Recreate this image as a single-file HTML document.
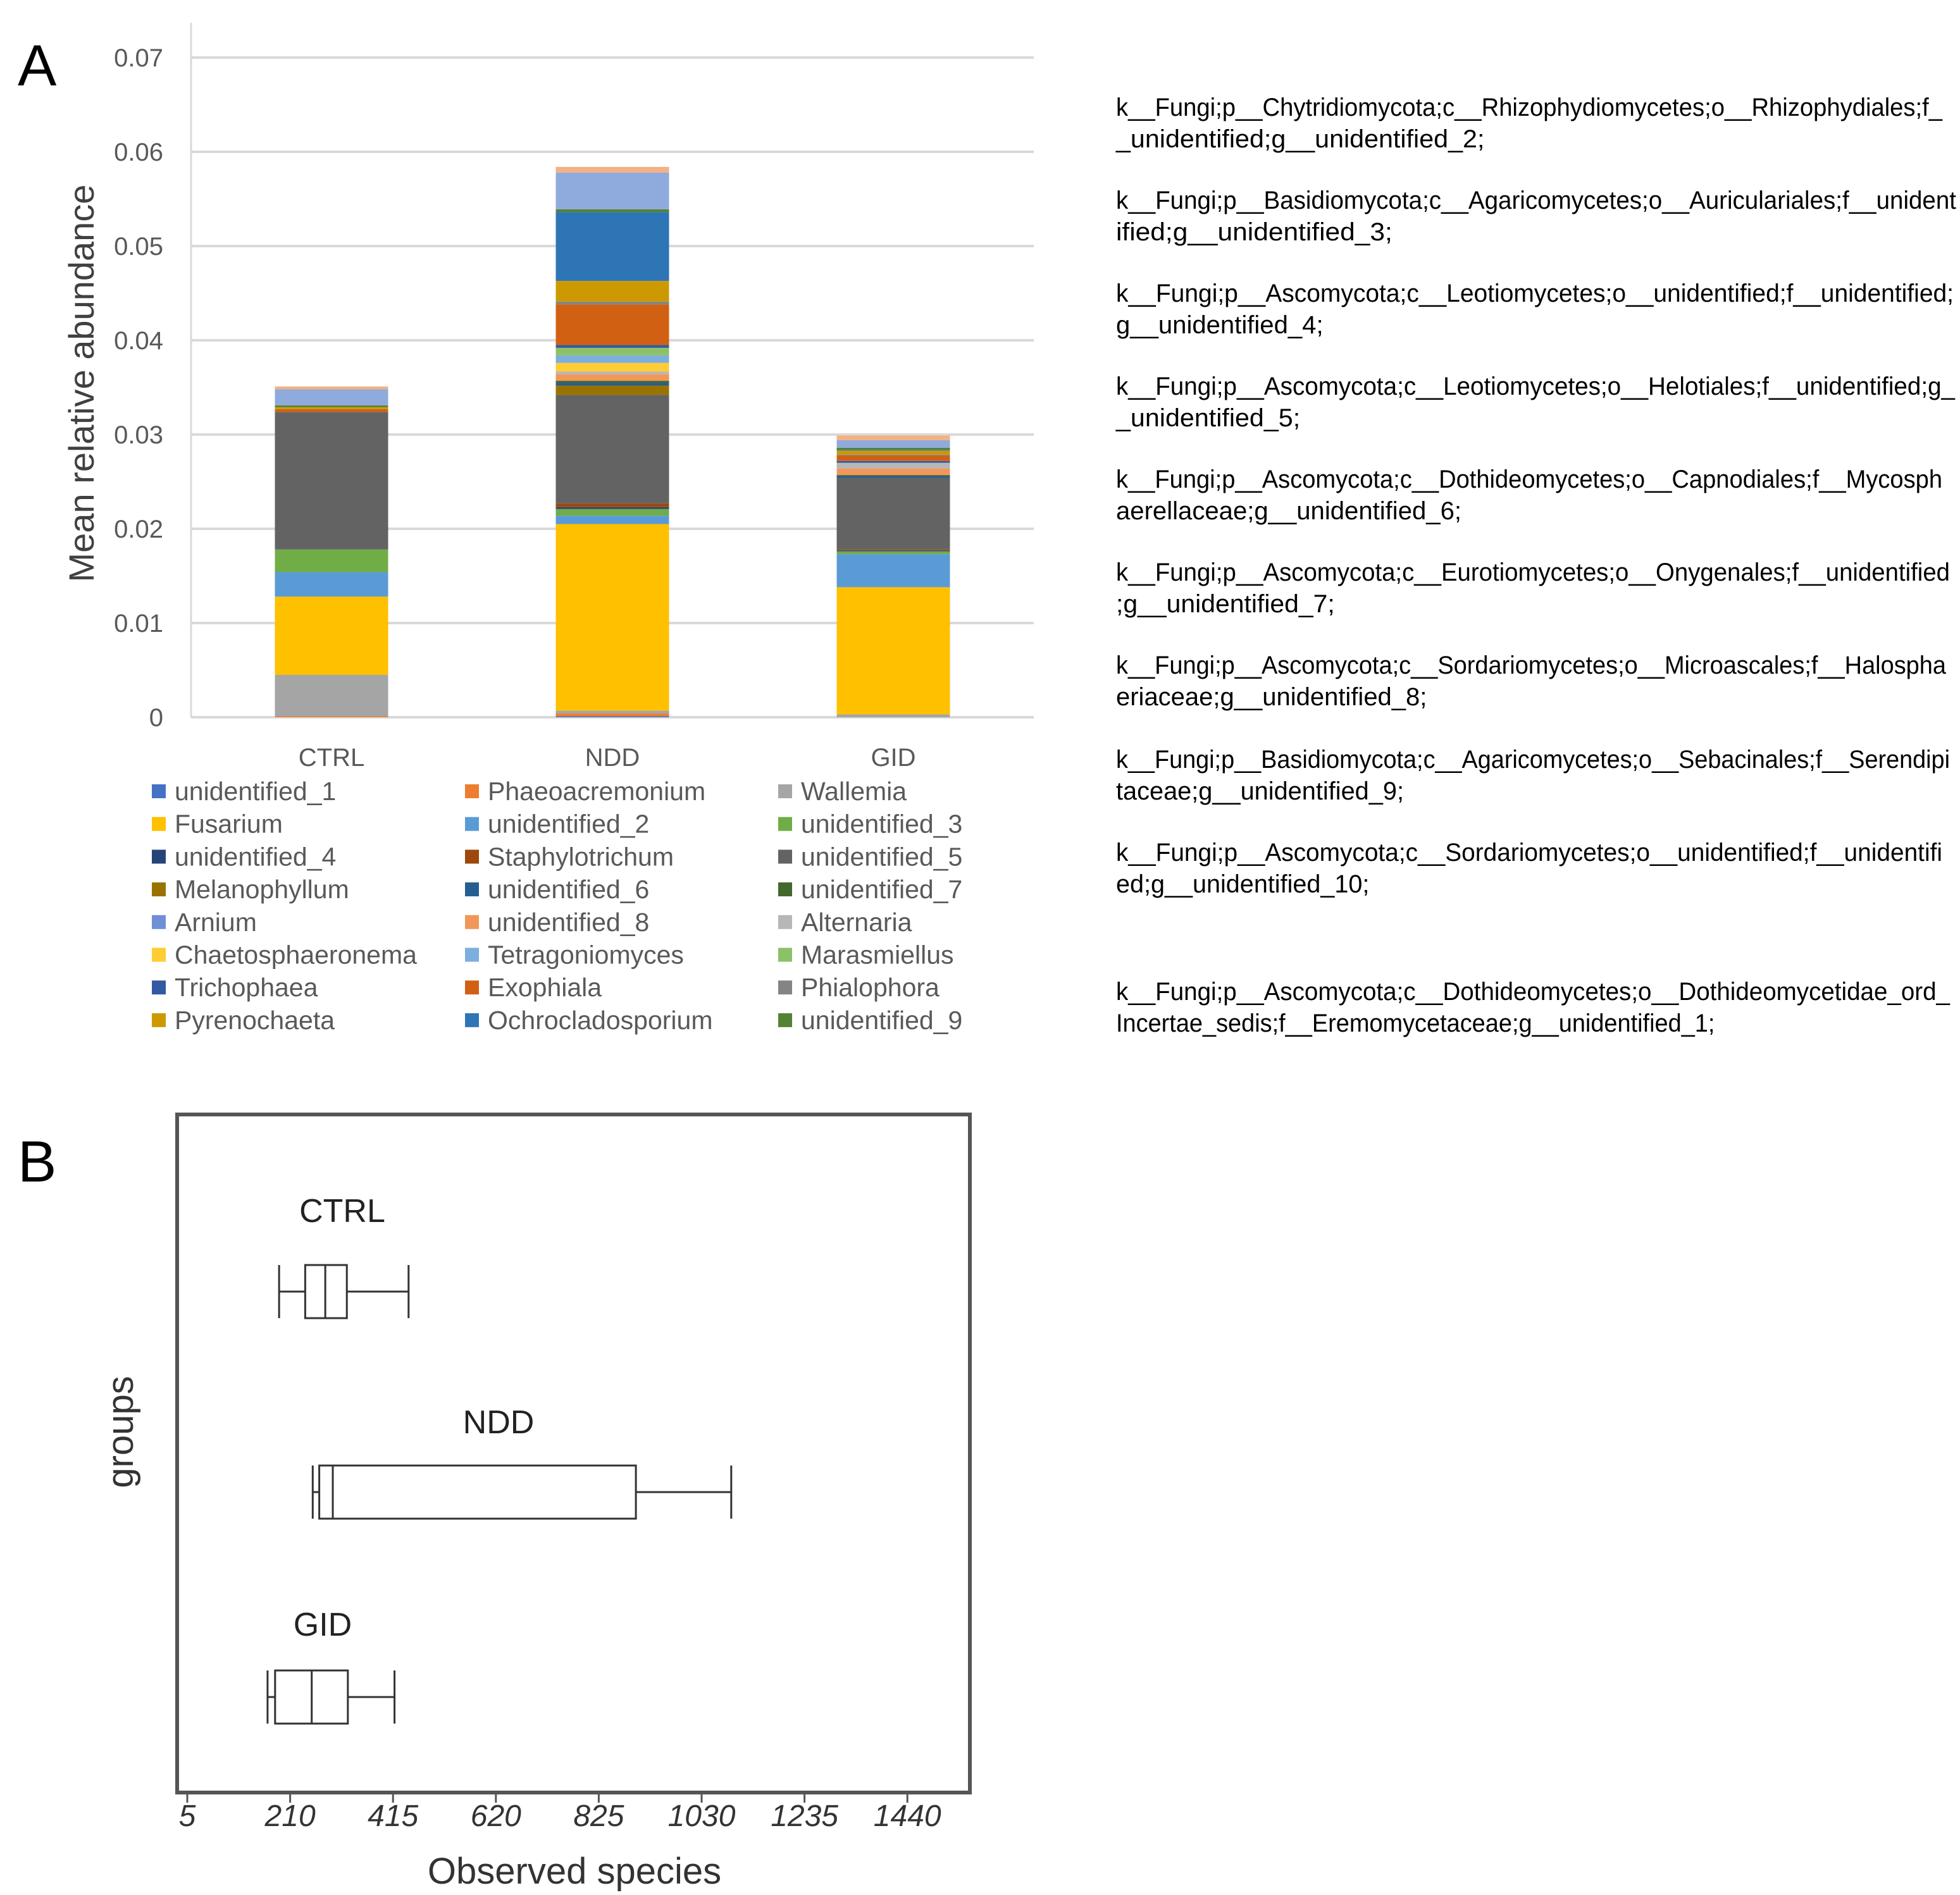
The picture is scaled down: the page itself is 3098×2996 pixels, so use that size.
<!DOCTYPE html>
<html><head><meta charset="utf-8"><style>
html,body{margin:0;padding:0;background:#fff}
svg{display:block}
text{font-family:"Liberation Sans",sans-serif}
</style></head><body>
<svg id="fig" width="3098" height="2996" viewBox="0 0 3098 2996" xmlns="http://www.w3.org/2000/svg">
<rect width="3098" height="2996" fill="#fff"/>
<text x="28" y="135" font-size="92" fill="#000">A</text>
<g id="chartA"></g>
<g id="legendA"></g>
<g id="taxa"></g>
<text x="28" y="1868" font-size="92" fill="#000">B</text>
<g id="chartB"></g>
</svg>
<script>
const NS="http://www.w3.org/2000/svg";
function mk(p,tag,attrs,txt){const e=document.createElementNS(NS,tag);for(const k in attrs)e.setAttribute(k,attrs[k]);if(txt!==undefined)e.textContent=txt;p.appendChild(e);return e;}

// ---------- Panel A data ----------
const groups=["CTRL","NDD","GID"];
const seriesNames=["unidentified_1","Phaeoacremonium","Wallemia","Fusarium","unidentified_2","unidentified_3","unidentified_4","Staphylotrichum","unidentified_5","Melanophyllum","unidentified_6","unidentified_7","unidentified_8","Alternaria","Chaetosphaeronema","Tetragoniomyces","Marasmiellus","Trichophaea","Exophiala","Phialophora","Pyrenochaeta","Ochrocladosporium","unidentified_9","Arnium","others"];
const seriesColors=["#4472c4","#ed7d31","#a5a5a5","#ffc000","#5b9bd5","#70ad47","#264478","#9e480e","#636363","#997300","#255e91","#43682b","#f1975a","#b7b7b7","#ffcd33","#7cafdd","#8cc168","#335aa1","#d26012","#848484","#cc9a00","#2e75b6","#548235","#8faadc","#f4b183"];
const valCTRL=[0,0.0001,0.0044,0.0083,0.0026,0.0024,0,0,0.0146,0,0,0,0,0,0,0,0,0,0.0003,0,0.0002,0,0.0002,0.0017,0.0003];
const valNDD=[0.0001,0.0003,0.0003,0.0198,0.0009,0.0007,0.0002,0.0004,0.0115,0.0010,0.0003,0.0002,0.0007,0.0003,0.0009,0.0008,0.0008,0.0003,0.0043,0.0003,0.0022,0.0073,0.0003,0.0039,0.0006];
const valGID=[0,0,0.0003,0.0135,0.0035,0.0003,0.0001,0.0001,0.0076,0,0.0002,0.0001,0.0007,0.0006,0,0,0,0.0002,0.0006,0.0001,0.0004,0.0001,0.0002,0.0008,0.0005];
const groupValues=[valCTRL,valNDD,valGID];
const yTicks=[0,0.01,0.02,0.03,0.04,0.05,0.06,0.07];
const yTickLabels=["0","0.01","0.02","0.03","0.04","0.05","0.06","0.07"];
const legendOrder=["unidentified_1","Phaeoacremonium","Wallemia","Fusarium","unidentified_2","unidentified_3","unidentified_4","Staphylotrichum","unidentified_5","Melanophyllum","unidentified_6","unidentified_7","Arnium","unidentified_8","Alternaria","Chaetosphaeronema","Tetragoniomyces","Marasmiellus","Trichophaea","Exophiala","Phialophora","Pyrenochaeta","Ochrocladosporium","unidentified_9"];
const legendSwatch={"Arnium":"#6f8fd6"};

const A={x0:302,x1:1634,y0:1134,yTop:36};
const yA=v=>A.y0-v*14900;
const band=(A.x1-A.x0)/groups.length;
const xA=i=>A.x0+band*(i+0.5);
const barW=179;

const gA=document.getElementById('chartA');
yTicks.forEach((t,i)=>{
  if(t>0){const l=mk(gA,'line',{x1:A.x0,x2:A.x1,y1:yA(t),y2:yA(t),stroke:'#d9d9d9','stroke-width':4});
  
  }
  const tx=mk(gA,'text',{x:258,y:yA(t)+14,'font-size':40,fill:'#595959','text-anchor':'end'},yTickLabels[i]);
  
  
});
const ax=mk(gA,'line',{x1:A.x0,x2:A.x0,y1:A.yTop,y2:A.y0,stroke:'#d9d9d9','stroke-width':3});


const bx=mk(gA,'line',{x1:A.x0,x2:A.x1,y1:A.y0,y2:A.y0,stroke:'#d9d9d9','stroke-width':4});


groups.forEach((g,gi)=>{
  let cum=0;
  groupValues[gi].forEach((v,si)=>{
    if(v<=0)return;
    const r=mk(gA,'rect',{x:xA(gi)-barW/2,y:yA(cum+v),width:barW,height:Math.max(0,yA(cum)-yA(cum+v)),fill:seriesColors[si]});
    
    
    cum+=v;
  });
  const t=mk(gA,'text',{x:xA(gi),y:1211,'font-size':40,fill:'#595959','text-anchor':'middle'},g);
  
  
});
const yt=mk(gA,'text',{x:0,y:0,'font-size':56,fill:'#404040','text-anchor':'middle',transform:'translate(148,606) rotate(-90)'},'Mean relative abundance');



// legend
const gL=document.getElementById('legendA');
legendOrder.forEach((n,i)=>{
  const col=i%3,row=Math.floor(i/3);
  const x=240+col*495,y=1251+row*51.7;
  const ci=seriesNames.indexOf(n);
  const s=mk(gL,'rect',{x:x,y:y-11,width:22,height:22,fill:legendSwatch[n]||seriesColors[ci]});
  
  
  const t=mk(gL,'text',{x:x+36,y:y+14,'font-size':41,fill:'#595959'},n);
  
  
});

// taxonomy text
const taxa=[
 ["k__Fungi;p__Chytridiomycota;c__Rhizophydiomycetes;o__Rhizophydiales;f_","_unidentified;g__unidentified_2;"],
 ["k__Fungi;p__Basidiomycota;c__Agaricomycetes;o__Auriculariales;f__unident","ified;g__unidentified_3;"],
 ["k__Fungi;p__Ascomycota;c__Leotiomycetes;o__unidentified;f__unidentified;","g__unidentified_4;"],
 ["k__Fungi;p__Ascomycota;c__Leotiomycetes;o__Helotiales;f__unidentified;g_","_unidentified_5;"],
 ["k__Fungi;p__Ascomycota;c__Dothideomycetes;o__Capnodiales;f__Mycosph","aerellaceae;g__unidentified_6;"],
 ["k__Fungi;p__Ascomycota;c__Eurotiomycetes;o__Onygenales;f__unidentified",";g__unidentified_7;"],
 ["k__Fungi;p__Ascomycota;c__Sordariomycetes;o__Microascales;f__Halospha","eriaceae;g__unidentified_8;"],
 ["k__Fungi;p__Basidiomycota;c__Agaricomycetes;o__Sebacinales;f__Serendipi","taceae;g__unidentified_9;"],
 ["k__Fungi;p__Ascomycota;c__Sordariomycetes;o__unidentified;f__unidentifi","ed;g__unidentified_10;"],
 ["k__Fungi;p__Ascomycota;c__Dothideomycetes;o__Dothideomycetidae_ord_","Incertae_sedis;f__Eremomycetaceae;g__unidentified_1;"]
];
const taxaY=[169,316,463,610,757,904,1051,1200,1347,1567];
const firstW=[1306,1328,1324,1326,1306,1318,1312,1318,1306,1318];
const gT=document.getElementById('taxa');
taxa.forEach((p,i)=>{
  const t1=mk(gT,'text',{x:1764,y:taxaY[i]+14,'font-size':40,fill:'#000',textLength:firstW[i],lengthAdjust:'spacingAndGlyphs'},p[0]);
  
  
  const t2=mk(gT,'text',{x:1764,y:taxaY[i]+64,'font-size':40,fill:'#000',textLength:p[1].length*18.2,lengthAdjust:'spacingAndGlyphs'},p[1]);
  
  
});

// ---------- Panel B data ----------
const boxGroups=["CTRL","NDD","GID"];
const boxMin=[188,255,165];
const boxQ1=[240,268,180];
const boxMed=[280,295,253];
const boxQ3=[323,899,325];
const boxMax=[446,1089,418];
const xTicksB=[5,210,415,620,825,1030,1235,1440];
const xTickLabelsB=["5","210","415","620","825","1030","1235","1440"];

const B={left:280,right:1533,top:1762,bottom:2834};
const xB=v=>296+(v-5)/205*162.6;
const boxY=[2042,2359,2683];
const labelPos=[[541,1932],[788,2266],[510,2586]];
const gB=document.getElementById('chartB');
const frame=mk(gB,'rect',{x:B.left,y:B.top,width:B.right-B.left,height:B.bottom-B.top,fill:'none',stroke:'#555','stroke-width':6});


xTicksB.forEach((t,i)=>{
  const l=mk(gB,'line',{x1:xB(t),x2:xB(t),y1:B.bottom,y2:B.bottom+16,stroke:'#555','stroke-width':3});
  
  
  const tx=mk(gB,'text',{x:xB(t),y:2887,'font-size':48,'font-style':'italic','font-family':'"Liberation Serif",serif',fill:'#333','text-anchor':'middle'},xTickLabelsB[i]);
  
  
});
boxGroups.forEach((g,i)=>{
  const cy=boxY[i],h=84;
  const gg=mk(gB,'g',{stroke:'#333','stroke-width':3,fill:'none'});
  
  
  mk(gg,'line',{x1:xB(boxMin[i]),x2:xB(boxQ1[i]),y1:cy,y2:cy});
  mk(gg,'line',{x1:xB(boxQ3[i]),x2:xB(boxMax[i]),y1:cy,y2:cy});
  mk(gg,'line',{x1:xB(boxMin[i]),x2:xB(boxMin[i]),y1:cy-h/2,y2:cy+h/2});
  mk(gg,'line',{x1:xB(boxMax[i]),x2:xB(boxMax[i]),y1:cy-h/2,y2:cy+h/2});
  mk(gg,'rect',{x:xB(boxQ1[i]),y:cy-h/2,width:xB(boxQ3[i])-xB(boxQ1[i]),height:h});
  mk(gg,'line',{x1:xB(boxMed[i]),x2:xB(boxMed[i]),y1:cy-h/2,y2:cy+h/2});
  const t=mk(gB,'text',{x:labelPos[i][0],y:labelPos[i][1],'font-size':52,fill:'#222','text-anchor':'middle'},g);
  
  
});
const xt=mk(gB,'text',{x:908,y:2978,'font-size':58,fill:'#333','text-anchor':'middle'},'Observed species');


const gt=mk(gB,'text',{x:0,y:0,'font-size':58,fill:'#333','text-anchor':'middle',transform:'translate(210,2264) rotate(-90)'},'groups');


</script>
</body></html>
